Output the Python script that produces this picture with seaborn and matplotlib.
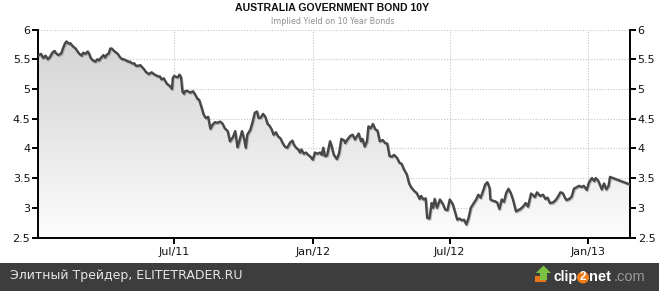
import numpy as np
import pandas as pd
import matplotlib
matplotlib.use("Agg")
import matplotlib.pyplot as plt
import matplotlib.dates as mdates
import matplotlib.patheffects as pe
import seaborn as sns
from matplotlib.colors import LinearSegmentedColormap
from matplotlib.patches import Rectangle, Ellipse, Polygon
from matplotlib.ticker import FuncFormatter

# ---- data (days since 2011-01-01, implied 10Y yield) ----
day_offsets = [1, 4, 7, 10, 13, 16, 19, 22, 24, 27, 31, 33, 36, 38, 41, 43, 46, 50, 52, 55,
               58, 60, 63, 66, 68, 70, 73, 76, 79, 81, 84, 87, 89, 91, 94, 96, 98, 101, 104, 106,
               109, 112, 114, 117, 120, 122, 125, 128, 130, 133, 136, 138, 141, 143, 147, 151, 153, 155, 160, 162,
               164, 167, 171, 173, 175, 178, 179, 181, 184, 186, 188, 190, 192, 194, 195, 198, 202, 206, 209, 212,
               214, 217, 220, 223, 226, 229, 232, 235, 238, 242, 245, 248, 252, 255, 259, 262, 265, 267, 271, 274,
               276, 278, 282, 285, 288, 291, 293, 296, 299, 302, 305, 307, 310, 313, 316, 319, 322, 325, 328, 331,
               335, 338, 340, 343, 346, 348, 350, 353, 356, 359, 362, 365, 368, 371, 375, 377, 379, 381, 384, 388,
               390, 393, 397, 400, 403, 407, 408, 411, 415, 418, 421, 426, 429, 431, 434, 437, 439, 442, 445, 448,
               451, 454, 458, 461, 464, 467, 470, 473, 477, 480, 483, 486, 490, 493, 496, 500, 503, 507, 509, 512,
               515, 517, 520, 523, 525, 527, 530, 534, 538, 541, 544, 547, 551, 554, 557, 560, 563, 566, 569, 572,
               575, 578, 582, 585, 588, 592, 594, 597, 600, 601, 604, 607, 610, 613, 616, 619, 622, 625, 628, 631,
               635, 638, 641, 645, 648, 651, 655, 658, 660, 663, 667, 671, 674, 677, 680, 684, 687, 690, 694, 697,
               700, 702, 706, 709, 712, 716, 719, 722, 725, 729, 732, 736, 739, 741, 744, 747, 749, 752, 755, 758,
               760, 764, 787]
yields = [5.57, 5.59, 5.52, 5.56, 5.50, 5.54, 5.61, 5.64, 5.60, 5.57, 5.60, 5.68, 5.77, 5.80, 5.76, 5.77, 5.72, 5.68, 5.64, 5.59,
          5.56, 5.61, 5.59, 5.63, 5.59, 5.52, 5.48, 5.46, 5.50, 5.48, 5.53, 5.57, 5.53, 5.57, 5.60, 5.68, 5.68, 5.64, 5.61, 5.59,
          5.53, 5.50, 5.50, 5.48, 5.46, 5.46, 5.43, 5.43, 5.39, 5.39, 5.40, 5.37, 5.33, 5.29, 5.25, 5.28, 5.26, 5.24, 5.21, 5.21,
          5.16, 5.18, 5.09, 5.07, 5.05, 5.00, 5.18, 5.22, 5.20, 5.20, 5.24, 5.20, 4.95, 4.92, 4.96, 4.97, 4.94, 4.96, 4.90, 4.83,
          4.82, 4.70, 4.57, 4.51, 4.53, 4.33, 4.40, 4.44, 4.43, 4.45, 4.42, 4.34, 4.29, 4.12, 4.19, 4.29, 4.02, 4.10, 4.29, 4.15,
          4.01, 4.23, 4.31, 4.44, 4.60, 4.62, 4.51, 4.52, 4.58, 4.53, 4.41, 4.39, 4.33, 4.23, 4.27, 4.20, 4.17, 4.09, 4.03, 4.01,
          4.10, 4.13, 4.06, 4.01, 3.98, 3.93, 3.98, 3.91, 3.93, 3.89, 3.86, 3.81, 3.93, 3.91, 3.93, 3.89, 4.01, 3.87, 3.88, 4.12,
          4.04, 3.89, 3.82, 3.92, 4.16, 4.13, 4.09, 4.15, 4.21, 4.23, 4.15, 4.25, 4.12, 4.16, 4.03, 4.12, 4.37, 4.34, 4.41, 4.32,
          4.30, 4.12, 4.14, 4.09, 4.08, 3.87, 3.86, 3.89, 3.84, 3.76, 3.74, 3.65, 3.56, 3.41, 3.34, 3.28, 3.25, 3.15, 3.20, 3.14,
          3.16, 2.83, 2.82, 3.08, 3.00, 3.15, 3.00, 3.14, 3.06, 2.97, 2.96, 3.14, 3.06, 2.93, 2.80, 2.82, 2.79, 2.80, 2.72, 2.83,
          3.00, 3.06, 3.14, 3.22, 3.17, 3.31, 3.39, 3.43, 3.33, 3.14, 3.12, 3.11, 3.09, 2.98, 3.14, 3.10, 3.25, 3.32, 3.25, 3.14,
          2.94, 2.96, 2.98, 3.03, 3.08, 3.02, 3.24, 3.21, 3.18, 3.26, 3.20, 3.22, 3.15, 3.17, 3.08, 3.09, 3.12, 3.17, 3.26, 3.25,
          3.17, 3.13, 3.15, 3.19, 3.32, 3.35, 3.37, 3.35, 3.37, 3.30, 3.43, 3.50, 3.45, 3.50, 3.46, 3.37, 3.31, 3.41, 3.31, 3.37,
          3.52, 3.50, 3.39]

tick_dates = ["2011-07-01", "2012-01-01", "2012-07-01", "2013-01-01"]
tick_labels = ["Jul/11", "Jan/12", "Jul/12", "Jan/13"]
y_ticks = [2.5, 3, 3.5, 4, 4.5, 5, 5.5, 6]

title = "AUSTRALIA GOVERNMENT BOND 10Y"
subtitle = "Implied Yield on 10 Year Bonds"
footer = "Элитный Трейдер, ELITETRADER.RU"

start = pd.Timestamp("2011-01-01")
df = pd.DataFrame({"date": start + pd.to_timedelta(day_offsets, unit="D"),
                   "yield": yields})

sns.set_style("white")
plt.rcParams["font.family"] = ["DejaVu Sans"]

W, H = 659, 291
fig = plt.figure(figsize=(W / 100, H / 100), dpi=100)
fig.patch.set_facecolor("white")

def fx(x):
    return x / W

def fy(y):
    return 1 - y / H

ax = fig.add_axes([fx(38), fy(237.5), (630 - 38) / W, (237.5 - 29.5) / H])
ax.set_facecolor("white")

xmin = mdates.date2num(start)
xmax = mdates.date2num(start + pd.Timedelta(days=786.5))

# gradient area under the line
poly = ax.fill_between(df["date"], df["yield"], 2.5, color="none", lw=0)
grad = np.linspace(0, 1, 256).reshape(-1, 1)
cmap = LinearSegmentedColormap.from_list("g", ["#d2d2d2", "#e6e6e6", "#fcfcfc"])
im = ax.imshow(grad, cmap=cmap, aspect="auto", extent=[xmin, xmax, 2.5, 6],
               origin="upper", zorder=1, interpolation="bilinear")
im.set_clip_path(poly.get_paths()[0], transform=ax.transData)

sns.lineplot(data=df, x="date", y="yield", ax=ax, color="#474747", lw=1.7, zorder=3,
             path_effects=[pe.SimpleLineShadow(offset=(0.6, -0.8), shadow_color="#7a7a7a", alpha=0.5),
                           pe.Normal()])

ax.set_xlim(xmin, xmax)
ax.set_ylim(2.5, 6)
ax.set_xlabel("")
ax.set_ylabel("")

ax.set_xticks([mdates.date2num(pd.Timestamp(d)) for d in tick_dates])
ax.set_xticklabels(tick_labels)
ax.set_yticks(y_ticks)
ax.yaxis.set_major_formatter(FuncFormatter(lambda v, p: f"{v:g}"))

ax.grid(True, ls=(0, (1, 1.5)), color="#c4c4c4", lw=0.8, zorder=0)
ax.set_axisbelow(True)

for s in ["left", "right", "bottom"]:
    ax.spines[s].set_visible(True)
    ax.spines[s].set_color("black")
    ax.spines[s].set_linewidth(1.4)
ax.spines["top"].set_visible(False)

ax.tick_params(axis="both", direction="out", length=4, width=1.4, color="black",
               labelsize=8, labelcolor="#111111", pad=1.5)
ax.tick_params(axis="y", left=True, right=True, labelleft=True, labelright=True)
ax.tick_params(axis="x", bottom=True, pad=2.5)

# titles
fig.text(fx(332), fy(8), title, ha="center", va="center", fontsize=7.6,
         fontweight="bold", color="#111111", family="Liberation Sans")
fig.text(fx(333), fy(22), subtitle, ha="center", va="center", fontsize=5.8,
         color="#8f8f8f")

# footer banner
fig.add_artist(Rectangle((0, 0), 1, 28.3 / H, transform=fig.transFigure,
                         facecolor="#3d3d3d", edgecolor="none", zorder=0))
fig.text(fx(10), fy(276), footer, ha="left", va="center", fontsize=9,
         color="#e6e6e6")

# clip2net logo
orange_bar = Polygon([(fx(535), fy(276)), (fx(546), fy(276)), (fx(546), fy(282)), (fx(535), fy(282))],
                     closed=True, transform=fig.transFigure, facecolor="#e8751a", edgecolor="none")
arrow = Polygon([(fx(540), fy(280)), (fx(540), fy(273)), (fx(536), fy(273)), (fx(543.5), fy(265.5)),
                 (fx(551), fy(273)), (fx(547), fy(273)), (fx(547), fy(280))],
                closed=True, transform=fig.transFigure, facecolor="#7cc242", edgecolor="none")
fig.add_artist(orange_bar)
fig.add_artist(arrow)
fig.text(fx(553), fy(277), "clip", ha="left", va="center", fontsize=10,
         fontweight="bold", color="white", family="Liberation Sans", zorder=5)
fig.add_artist(Ellipse((fx(583), fy(277.5)), 12.0 / W, 12.0 / H, transform=fig.transFigure,
                       facecolor="#f07d1a", edgecolor="none", zorder=4))
fig.text(fx(583), fy(277.5), "2", ha="center", va="center", fontsize=8.5,
         fontweight="bold", color="white", family="Liberation Sans", zorder=5)
fig.text(fx(589.5), fy(277), "net", ha="left", va="center", fontsize=10.5,
         fontweight="bold", color="white", family="Liberation Sans", zorder=5)
fig.text(fx(614), fy(277), ".com", ha="left", va="center", fontsize=10.5,
         color="#9a9a9a", family="Liberation Sans", zorder=5)

fig.savefig("out.png", dpi=100, facecolor="white")
